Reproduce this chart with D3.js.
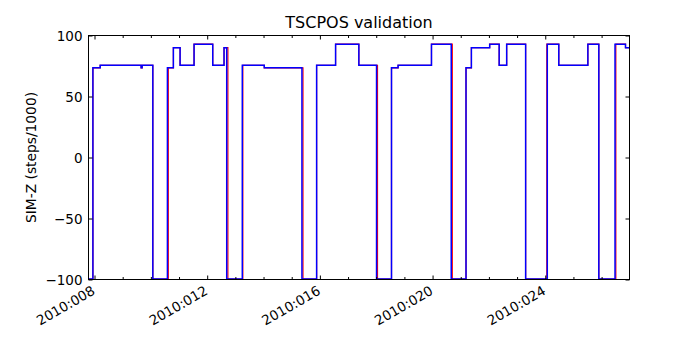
<!DOCTYPE html>
<html><head><meta charset="utf-8">
<script src="https://cdn.jsdelivr.net/npm/d3@7"></script>
<style>body{margin:0;background:#fff}svg{display:block}</style>
</head><body>
<svg id="c" width="700" height="350"></svg>
<script>
// ---- data ----
const titleText = "TSCPOS validation";
const yLabelText = "SIM-Z (steps/1000)";
const xDomain = [7.787, 26.99];           // day of year 2010
const yDomain = [-100, 100];
const yTicks = [-100, -50, 0, 50, 100];
const xMajorTicks = [8, 12, 16, 20, 24];
const xTickLabels = ["2010:008", "2010:012", "2010:016", "2010:020", "2010:024"];
const xMinorTicks = [9, 10, 11, 13, 14, 15, 17, 18, 19, 21, 22, 23, 25, 26];

// telemetry (blue), step series: value holds from time until next time
const blueTimes = [7.787, 7.943, 8.202, 9.655, 9.69, 10.070, 10.588, 10.800, 11.038, 11.534,
  12.197, 12.598, 12.693, 13.246, 14.026, 15.363, 15.884, 16.557, 17.383, 18.011,
  18.542, 18.776, 19.961, 20.662, 21.187, 21.378, 22.027, 22.364, 22.630, 23.303,
  24.072, 24.480, 25.512, 25.901, 26.476, 26.848, 26.99];
const blueValues = [-99.6, 73.5, 75.6, 73.5, 75.6, -99.6, 73.5, 90.0, 75.6, 92.9,
  75.6, 90.0, -99.6, 75.6, 73.5, -99.6, 75.6, 92.9, 75.6, -99.6,
  73.5, 75.6, 92.9, -99.6, 73.5, 90.0, 92.9, 75.6, 92.9, -99.6,
  92.9, 75.6, 92.9, -99.6, 92.9, 90.0, 90.0];

// prediction (red), step series
const redTimes = [7.787, 7.943, 8.202, 9.655, 9.69, 10.070, 10.62, 10.800, 11.038, 11.534,
  12.197, 12.598, 12.735, 13.265, 14.026, 15.40, 15.884, 16.557, 17.383, 18.045,
  18.542, 18.776, 19.961, 20.70, 21.187, 21.378, 22.027, 22.364, 22.630, 23.303,
  24.055, 24.480, 25.512, 25.901, 26.505, 26.848, 26.99];
const redValues = blueValues.slice();

// ---- layout ----
const L = 88.5, R = 629.5, T = 35.5, B = 279.5;
const svg = d3.select("#c");
const font = "DejaVu Sans, sans-serif";

const x = d3.scaleLinear().domain(xDomain).range([L, R]);
const y = d3.scaleLinear().domain(yDomain).range([B, T]);

svg.append("defs").append("clipPath").attr("id", "clip")
  .append("rect").attr("x", L).attr("y", T - 2).attr("width", R - L).attr("height", B - T + 4);

const line = d3.line().x(d => x(d[0])).y(d => y(d[1])).curve(d3.curveStepAfter);
const redData = redTimes.map((t, i) => [t, redValues[i]]);
const blueData = blueTimes.map((t, i) => [t, blueValues[i]]);

const g = svg.append("g").attr("clip-path", "url(#clip)");
g.append("path").datum(redData).attr("d", line)
  .attr("fill", "none").attr("stroke", "#ff0000").attr("stroke-width", 1.2);
g.append("path").datum(blueData).attr("d", line)
  .attr("fill", "none").attr("stroke", "#0000ff").attr("stroke-width", 1.5);

// frame
svg.append("rect").attr("x", L).attr("y", T).attr("width", R - L).attr("height", B - T)
  .attr("fill", "none").attr("stroke", "#000").attr("stroke-width", 1);

function styleAxis(sel) {
  sel.select(".domain").remove();
  sel.selectAll("line").attr("stroke", "#000");
  sel.selectAll("text").attr("font-family", font).attr("font-size", 13.5).attr("fill", "#000");
}

// bottom major
const xb = svg.append("g").attr("transform", `translate(0,${B})`)
  .call(d3.axisBottom(x).tickValues(xMajorTicks).tickSize(-4)
    .tickFormat((d, i) => xTickLabels[i]));
styleAxis(xb);
xb.selectAll("text").attr("x", 0).attr("y", 0).attr("dy", 0)
  .attr("text-anchor", "end").attr("transform", "translate(1,14) rotate(-30)");
// bottom minor
styleAxis(svg.append("g").attr("transform", `translate(0,${B})`)
  .call(d3.axisBottom(x).tickValues(xMinorTicks).tickSize(-2.5).tickFormat("")));
// top major/minor
styleAxis(svg.append("g").attr("transform", `translate(0,${T})`)
  .call(d3.axisTop(x).tickValues(xMajorTicks).tickSize(-4).tickFormat("")));
styleAxis(svg.append("g").attr("transform", `translate(0,${T})`)
  .call(d3.axisTop(x).tickValues(xMinorTicks).tickSize(-2.5).tickFormat("")));
// left
const yl = svg.append("g").attr("transform", `translate(${L},0)`)
  .call(d3.axisLeft(y).tickValues(yTicks).tickSize(-4).tickPadding(6));
styleAxis(yl);
yl.selectAll("text").attr("x", -6).attr("dy", "0.35em");
// right
styleAxis(svg.append("g").attr("transform", `translate(${R},0)`)
  .call(d3.axisRight(y).tickValues(yTicks).tickSize(-4).tickFormat("")));

// title
svg.append("text").attr("x", (L + R) / 2).attr("y", 28)
  .attr("text-anchor", "middle").attr("font-family", font).attr("font-size", 16)
  .text(titleText);
// y label
svg.append("text").attr("transform", `translate(36,${(T + B) / 2}) rotate(-90)`)
  .attr("text-anchor", "middle").attr("font-family", font).attr("font-size", 13.8)
  .text(yLabelText);
</script>
</body></html>
